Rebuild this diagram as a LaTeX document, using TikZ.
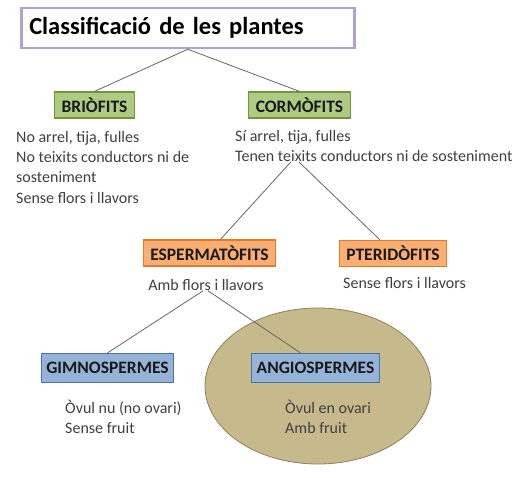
\documentclass[tikz,border=0pt]{standalone}
\usepackage{fontspec}
\setmainfont{Carlito}
\usetikzlibrary{calc}
\definecolor{titleline}{HTML}{B3A2C7}
\definecolor{greenfill}{HTML}{AECB84}
\definecolor{greenline}{HTML}{77933C}
\definecolor{orangefill}{HTML}{F9AE72}
\definecolor{orangeline}{HTML}{E8772E}
\definecolor{bluefill}{HTML}{95B3D7}
\definecolor{blueline}{HTML}{4A74A8}
\definecolor{ovaryfill}{HTML}{C6B98C}
\definecolor{ovaryline}{HTML}{8C8158}
\tikzset{
	box/.style={draw, line width=1.2pt, inner xsep=7pt, minimum height=26pt, text=black!90, font=\bfseries\fontsize{17.5}{20}\selectfont},
	greenbox/.style={box, fill=greenfill, draw=greenline},
	orangebox/.style={box, fill=orangefill, draw=orangeline},
	bluebox/.style={box, fill=bluefill, draw=blueline},
	notes/.style={align=left, inner sep=0pt, text=black!75, font=\fontsize{16}{20.3}\selectfont},
	link/.style={draw=black!60, line width=0.8pt}
}

\begin{document}
\begin{tikzpicture}[x=1pt, y=-1pt]
			%%%%% START %%%%%
			\useasboundingbox[fill=white] (0, 0) rectangle (517, 478);
			
			% ovary behind the angiosperms
			\draw[fill=ovaryfill, draw=ovaryline, line width=0.8pt] (318, 386) ellipse (113 and 78);
			
			\node[draw=titleline, line width=2.5pt, fill=white, anchor=west, text width=317pt, inner xsep=8pt, minimum height=40pt, align=left, font=\bfseries\fontsize{24.5}{30}\selectfont] (title) at (20, 28) {Classificació de les plantes};
			
			\node[greenbox] (brio) at (94.5, 105) {BRIÒFITS};
			\node[greenbox] (cormo) at (299.5, 105) {CORMÒFITS};
			\node[notes, anchor=north west] (briotxt) at (16, 131) {No arrel, tija, fulles\\No teixits conductors ni de\\sosteniment\\Sense flors i llavors};
			\node[notes, anchor=north west] (cormotxt) at (235, 130) {Sí arrel, tija, fulles\\Tenen teixits conductors ni de sosteniment};
			
			\node[orangebox] (esper) at (209.5, 253) {ESPERMATÒFITS};
			\node[orangebox] (pteri) at (393, 253.5) {PTERIDÒFITS};
			\node[notes] (espertxt) at (206, 285) {Amb flors i llavors};
			\node[notes, anchor=west] (pteritxt) at (343, 283) {Sense flors i llavors};
			
			\node[bluebox, inner xsep=5pt, minimum height=29pt] (gimno) at (107.5, 368) {GIMNOSPERMES};
			\node[bluebox, inner xsep=5pt, minimum height=29pt] (angio) at (315.5, 368) {ANGIOSPERMES};
			\node[notes, anchor=north west] (gimnotxt) at (65, 400) {Òvul nu (no ovari)\\Sense fruit};
			\node[notes, anchor=north west] (angiotxt) at (285, 400) {Òvul en ovari\\Amb fruit};
			
			\draw[link] (title.south) -- (brio.north);
			\draw[link] (title.south) -- (cormo.north);
			\draw[link] ([xshift=-83pt]cormotxt.south) -- ([xshift=11pt]esper.north);
			\draw[link] ([xshift=-75pt]cormotxt.south) -- ([xshift=-13pt]pteri.north);
			\draw[link] ([xshift=-3pt]espertxt.south) -- (gimno.north);
			\draw[link] ([xshift=2pt]espertxt.south) -- ([xshift=-15pt]angio.north);
			%%%%% END %%%%%
\end{tikzpicture}
\end{document}
